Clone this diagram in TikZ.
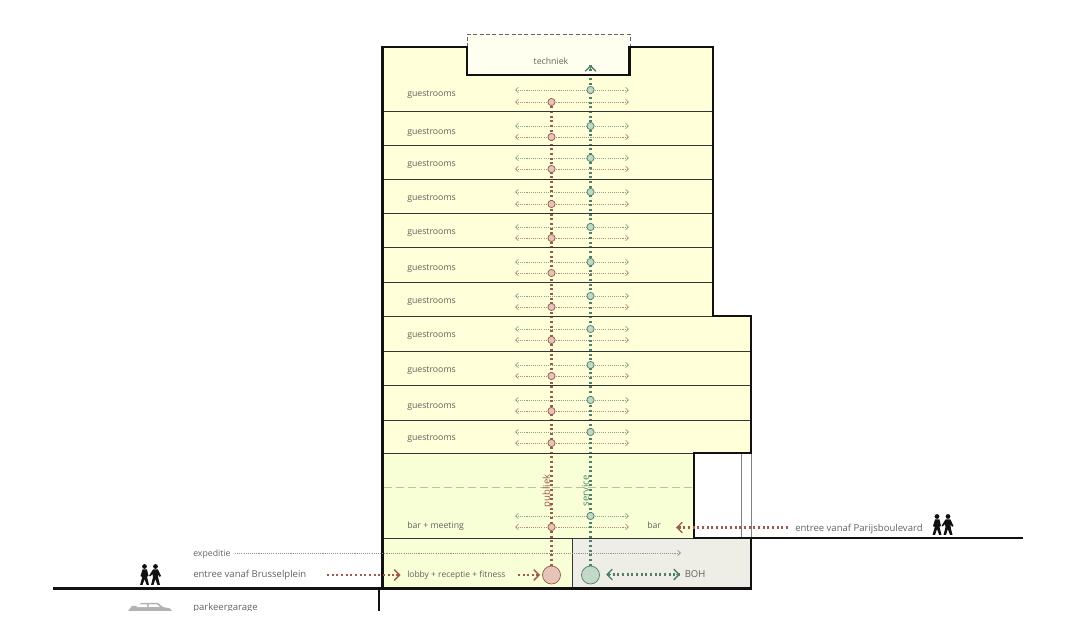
\documentclass[tikz,border=0pt]{standalone}
\usepackage{fontspec}
\setmainfont{Open Sans}
\usetikzlibrary{arrows.meta}
\definecolor{txt}{HTML}{63635D}
\definecolor{ink}{HTML}{111111}
\definecolor{roomfill}{HTML}{FFFFD9}
\definecolor{barfill}{HTML}{F8FFD6}
\definecolor{bohfill}{HTML}{EEEEE6}
\definecolor{techfill}{HTML}{FFFFF0}
\definecolor{redline}{HTML}{9A5A4C}
\definecolor{redthin}{HTML}{B08A7C}
\definecolor{redfill}{HTML}{E5C5B8}
\definecolor{greenline}{HTML}{4F8069}
\definecolor{greenthin}{HTML}{86A48C}
\definecolor{greenfill}{HTML}{C3D9C8}
\definecolor{midline}{HTML}{B9C2A2}
\pgfdeclarelayer{bg}\pgfdeclarelayer{conn}
\pgfsetlayers{bg,conn,main}
\tikzset{
  x=0.75pt,y=-0.75pt,
  lab/.style={anchor=west,inner sep=0pt,text=txt,font=\fontsize{6.55pt}{7pt}\selectfont,text height=1.45ex,text depth=.35ex},
  labbig/.style={lab,font=\fontsize{7.15pt}{8pt}\selectfont},
  labsmall/.style={lab,font=\fontsize{6.35pt}{7pt}\selectfont},
  wall/.style={draw=ink,line width=1.9pt,line cap=round,line join=miter},
  floorline/.style={draw=ink!85,line width=.65pt},
  thinline/.style={draw=black!50,line width=.6pt},
  ground/.style={draw=ink,line width=2.2pt},
  barb/.style={>={Straight Barb[length=2.2pt,width=4pt,line width=.5pt]}},
  bigbarb/.style={>={Straight Barb[length=4pt,width=8pt,line width=1pt]}},
  reddots/.style={draw=redline,line width=1.7pt,dash pattern=on 1.4pt off 2.1pt},
  greendots/.style={draw=greenline,line width=1.7pt,dash pattern=on 1.4pt off 2.1pt},
  redthinline/.style={draw=redthin,line width=.5pt,dash pattern=on .8pt off .8pt,barb},
  greenthinline/.style={draw=greenthin,line width=.5pt,dash pattern=on .8pt off .8pt,barb},
  reddot/.style={circle,draw=redline,fill=redfill,line width=.55pt,minimum size=5.4pt,inner sep=0pt},
  greendot/.style={circle,draw=greenline,fill=greenfill,line width=.55pt,minimum size=5.4pt,inner sep=0pt},
  bigdot/.style={minimum size=13.5pt},
  walker/.pic={
    \fill[ink] (5,2.5) circle (2.4);
    \fill[ink] (3,5.5) -- (7.5,5.5) -- (9,12) -- (7.8,12.5) -- (7.5,13) -- (9.5,21) -- (7.2,21) -- (5,15) -- (3,21) -- (.5,21) -- (2.8,13) -- (1,12) -- cycle;
    \fill[ink] (16,2.5) circle (2.4);
    \fill[ink] (13.5,5.5) -- (18.5,5.5) -- (21.5,12) -- (20,12.8) -- (18.5,10) -- (18.8,14) -- (20.5,21) -- (18,21) -- (15.8,15) -- (14,21) -- (11.5,21) -- (13.5,13) -- (13,10) -- (10.5,12.5) -- (9.7,11.5) -- cycle;
  },
}
\begin{document}
\begin{tikzpicture}
\useasboundingbox (0,0) rectangle (1072,623);
% fills
\begin{pgfonlayer}{bg}
\fill[roomfill] (382.5,47) -- (467,47) -- (467,75) -- (629,75) -- (629,47) -- (713,47) -- (713,316) -- (751,316) -- (751,453) -- (382.5,453) -- cycle;
\fill[techfill] (467,34) rectangle (630,75);
\fill[barfill] (382.5,453) rectangle (694,538);
\fill[barfill] (382.5,538) rectangle (572,588);
\fill[bohfill] (572,538) rectangle (751,588);
\end{pgfonlayer}
% outline corners
\coordinate (a1) at (382.5,588);\coordinate (a2) at (382.5,47);\coordinate (a3) at (467,47);
\coordinate (a4) at (467,75);\coordinate (a5) at (629.5,75);\coordinate (a6) at (629.5,47);
\coordinate (a7) at (713,47);\coordinate (a8) at (713,316);\coordinate (a9) at (751,316);
\coordinate (a10) at (751,453);\coordinate (a11) at (694,453);\coordinate (a12) at (694,538);
\coordinate (a13) at (751,538);\coordinate (a14) at (751,588);
\coordinate (t1) at (467,47);\coordinate (t2) at (467,34);\coordinate (t3) at (630,34);\coordinate (t4) at (630,47);
\draw[draw=black!60,line width=.7pt,dash pattern=on 3pt off 1.8pt] (t1) -- (t2) -- (t3) -- (t4);
\foreach \y in {111,145,179,213,247,282,316,351,385,420}{
  \coordinate (fl\y) at (382.5,\y);
  \coordinate (fr\y) at (\ifnum\y<316 713\else 751\fi,\y);
  \draw[floorline] (fl\y) -- (fr\y);
}
\coordinate (bl) at (382.5,453);\coordinate (bl2) at (382.5,538);
\coordinate (wa) at (741,453);\coordinate (wb) at (741,538);
\draw[thinline] (wa) -- (wb);
\draw[thinline] (a10) -- (a13);
\draw[floorline] (bl) -- (a11);
\draw[floorline] (bl2) -- (a12);
\coordinate (d1) at (572,538);\coordinate (d2) at (572,588);
\draw[floorline] (d1) -- (d2);
\coordinate (m1) at (384,487.5);\coordinate (m2) at (692,487.5);
\draw[draw=midline,line width=.55pt,dash pattern=on 6pt off 3pt] (m1) -- (m2);
\draw[wall] (a1) -- (a2) -- (a3) -- (a4) -- (a5) -- (a6) -- (a7) -- (a8) -- (a9) -- (a10) -- (a11) -- (a12);
\draw[wall] (a13) -- (a14);
% ground
\coordinate (gl1) at (53,588.5);\coordinate (gl2) at (752,588.5);
\coordinate (gr1) at (694,538);\coordinate (gr2) at (1023,538);
\draw[ground] (gl1) -- (gl2);
\draw[draw=ink,line width=1.7pt] (gr1) -- (gr2);
\coordinate (c1) at (379,588);\coordinate (c2) at (379,611);
\draw[draw=ink,line width=1.3pt] (c1) -- (c2);
% big circles
\node[reddot,bigdot] (redbig) at (551.5,575) {};
\node[greendot,bigdot] (greenbig) at (590.5,575) {};
\coordinate (gtop) at (590.5,65);
% floor circles and arrows
\foreach \n/\g/\r in {1/90/102,2/126/137,3/158/169,4/192/204,5/227/238,6/262/273,7/296/307,8/329/340,9/365/376,10/400/411,11/432/443,12/516/527}{
  \node[greendot] (g\n) at (590.5,\g) {};
  \node[reddot] (r\n) at (551.5,\r) {};
  \coordinate (gL\n) at (515,\g);\coordinate (gR\n) at (629,\g);
  \coordinate (rL\n) at (515,\r);\coordinate (rR\n) at (629,\r);
  \begin{pgfonlayer}{conn}
  \draw[greenthinline,<->] (gL\n) -- (gR\n);
  \draw[redthinline,<->] (rL\n) -- (rR\n);
  \end{pgfonlayer}
}
\begin{pgfonlayer}{conn}
\draw[reddots] (redbig) -- (r1);
\draw[greendots] (greenbig) -- (gtop);
\draw[draw=greenline,line width=1pt,bigbarb,->] (590.5,71) -- (gtop);
\end{pgfonlayer}
% texts
\node[lab,anchor=center] (ttech) at (551,61) {techniek};
\foreach \n/\y in {1/93,2/131,3/163,4/197,5/231,6/267,7/300,8/334,9/369,10/405,11/437}{
  \node[lab] (lab\n) at (407,\y) {guestrooms};
}
\node[lab] (lbar) at (407,524.5) {bar + meeting};
\node[lab] (lbar2) at (647,524.5) {bar};
\node[labsmall] (llobby) at (407,573.5) {lobby + receptie + fitness};
\node[labbig] (lboh) at (684.5,573.5) {BOH};
\node[lab] (lexp) at (193,553) {expeditie};
\node[labbig] (lbrus) at (193,573.5) {entree vanaf Brusselplein};
\node[labbig] (lpar) at (795,527.5) {entree vanaf Parijsboulevard};
\node[labbig,anchor=center,rotate=90,text=redline] (lpub) at (546,491) {publiek};
\node[labbig,anchor=center,rotate=90,text=greenline] (lser) at (585,491) {service};
% flows
\coordinate (e1) at (235,553);\coordinate (e2) at (681,553);
\draw[draw=greenthin!70!gray,line width=.45pt,dash pattern=on .8pt off .8pt,barb,->] (e1) -- (e2);
\coordinate (b1) at (327,575);\coordinate (b2) at (400.5,575);
\coordinate (b3) at (518,575);\coordinate (b4) at (540,575);
\draw[reddots] (b1) -- (b2);\draw[draw=redline,line width=.9pt,bigbarb,->] (396,575) -- (b2);
\draw[reddots] (b3) -- (b4);\draw[draw=redline,line width=.9pt,bigbarb,->] (536,575) -- (b4);
\coordinate (h1) at (608,574.5);\coordinate (h2) at (680,574.5);
\draw[greendots] (h1) -- (h2);
\draw[draw=greenline,line width=.9pt,bigbarb,->] (676,574.5) -- (h2);
\draw[draw=greenline,line width=.9pt,bigbarb,->] (611,574.5) -- (606,574.5);
\coordinate (p1) at (788,527.5);\coordinate (p2) at (676,527.5);
\draw[reddots] (p1) -- (p2);
\draw[draw=redline,line width=.9pt,bigbarb,->] (680,527.5) -- (p2);
% people
\pic at (139.5,564) {walker};
\pic at (932,514) {walker};
% clipped bottom items
\begin{scope}
\clip (0,0) rectangle (1072,611);
\node[labbig] (lgar) at (193,607) {parkeergarage};
\fill[black!30] (128,611) -- (132,606) -- (138,606) -- (141,603) -- (158,603) -- (163,607) -- (170,608.5) -- (172,611) -- cycle;
\fill[white] (139,604.5) -- (147,604.5) -- (147,607) -- (136,607.2) -- cycle;
\fill[white] (148.5,604.5) -- (157,604.5) -- (160,607) -- (148.5,607) -- cycle;
\end{scope}
\end{tikzpicture}
\end{document}
